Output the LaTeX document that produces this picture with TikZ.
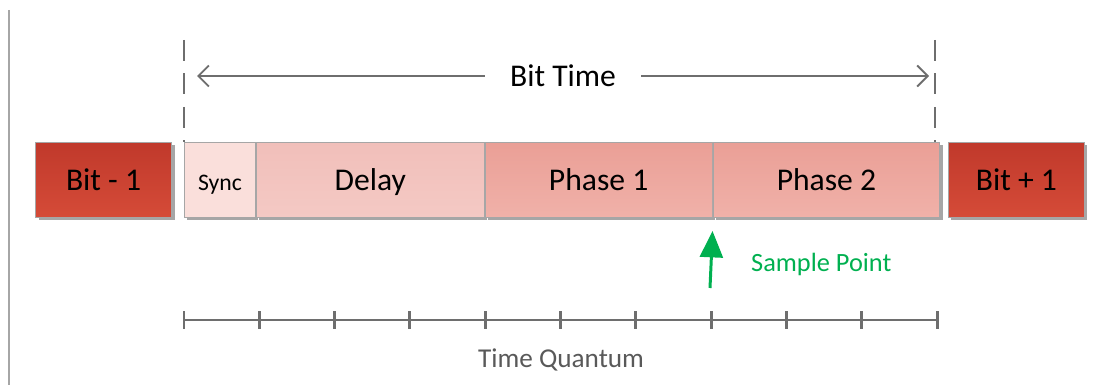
\documentclass[tikz,border=0pt]{standalone}
\usepackage{fontspec}
\setmainfont{Carlito}
\usepackage{xcolor}
\usetikzlibrary{arrows.meta,positioning,shadows}

\definecolor{bitTop}{HTML}{C0392B}
\definecolor{bitBot}{HTML}{D54B38}
\definecolor{syncFill}{HTML}{FADFDB}
\definecolor{delayTop}{HTML}{F1BFBA}
\definecolor{delayBot}{HTML}{F4C9C4}
\definecolor{phaseTop}{HTML}{EA9F96}
\definecolor{phaseBot}{HTML}{F0B1A9}
\definecolor{lineGray}{HTML}{6E6E6E}
\definecolor{sampleGreen}{HTML}{00B050}

\begin{document}
\begin{tikzpicture}[
    x=0.02cm, y=-0.02cm,
    node distance=0pt and 0pt,
    seg/.style={
        rectangle, draw=black!35, line width=0.5pt,
        minimum height=1.5cm, inner sep=0pt,
        text height=1.2em, text depth=0em,
        font=\fontsize{18}{20}\selectfont,
        drop shadow={shadow xshift=0.06cm, shadow yshift=-0.06cm, fill=black!35, opacity=1}
    },
    bit/.style={seg, top color=bitTop, bottom color=bitBot, minimum width=2.72cm},
    phase/.style={seg, top color=phaseTop, bottom color=phaseBot, minimum width=4.54cm},
    dashln/.style={lineGray, line width=1.1pt, dash pattern=on 12pt off 7pt},
    arr/.style={{Straight Barb[length=6pt,width=12pt]}-{Straight Barb[length=6pt,width=12pt]}, lineGray, line width=1.1pt},
    tick/.style={lineGray, line width=1.7pt},
]
\useasboundingbox (0,0) rectangle (1102,385);
\draw[black!35, line width=0.6pt] (9,10) -- (9,385);

% Segments of one bit
\node[seg, fill=syncFill, minimum width=1.42cm, anchor=west,
      font=\fontsize{13.5}{15}\selectfont] (sync) at (184,179.5) {Sync};
\node[seg, top color=delayTop, bottom color=delayBot, minimum width=4.56cm,
      right=of sync] (delay) {Delay};
\node[phase, right=of delay] (ph1) {Phase 1};
\node[phase, right=of ph1] (ph2) {Phase 2};

% Neighbouring bits
\node[bit, anchor=east] (prev) at (172,179.5) {Bit - 1};
\node[bit, anchor=west] (next) at (948,179.5) {Bit + 1};

% Bit time
\coordinate (btl) at (184,40);
\coordinate (btr) at (935,40);
\draw[dashln] (btl) -- (btl |- sync.north);
\draw[dashln] (btr) -- (btr |- sync.north);
\coordinate (al) at (197,76);
\coordinate (ar) at (929,76);
\draw[arr] (al) -- node[fill=white, text=black, inner xsep=14pt, font=\fontsize{18}{20}\selectfont] (bittime) {Bit Time} (ar);

% Sample point
\coordinate (sp) at (710,288);
\draw[-{Triangle[length=15pt,width=13pt]}, sampleGreen, line width=1.7pt] (sp) -- (ph2.south west |- 0,231);
\node[sampleGreen, anchor=west, font=\fontsize{15}{17}\selectfont] (splabel) at (745,264) {Sample Point};

% Time quanta
\coordinate (tq0) at (184,320);
\coordinate (tq10) at (937,320);
\draw[tick] (tq0) -- (tq10);
\foreach \i in {0,...,10}
    \draw[tick] (184+75.3*\i,311) -- ++(0,18);
\node[text=black!65, font=\fontsize{15.5}{17}\selectfont] (tqlabel) at (561,360) {Time Quantum};
\end{tikzpicture}
\end{document}
